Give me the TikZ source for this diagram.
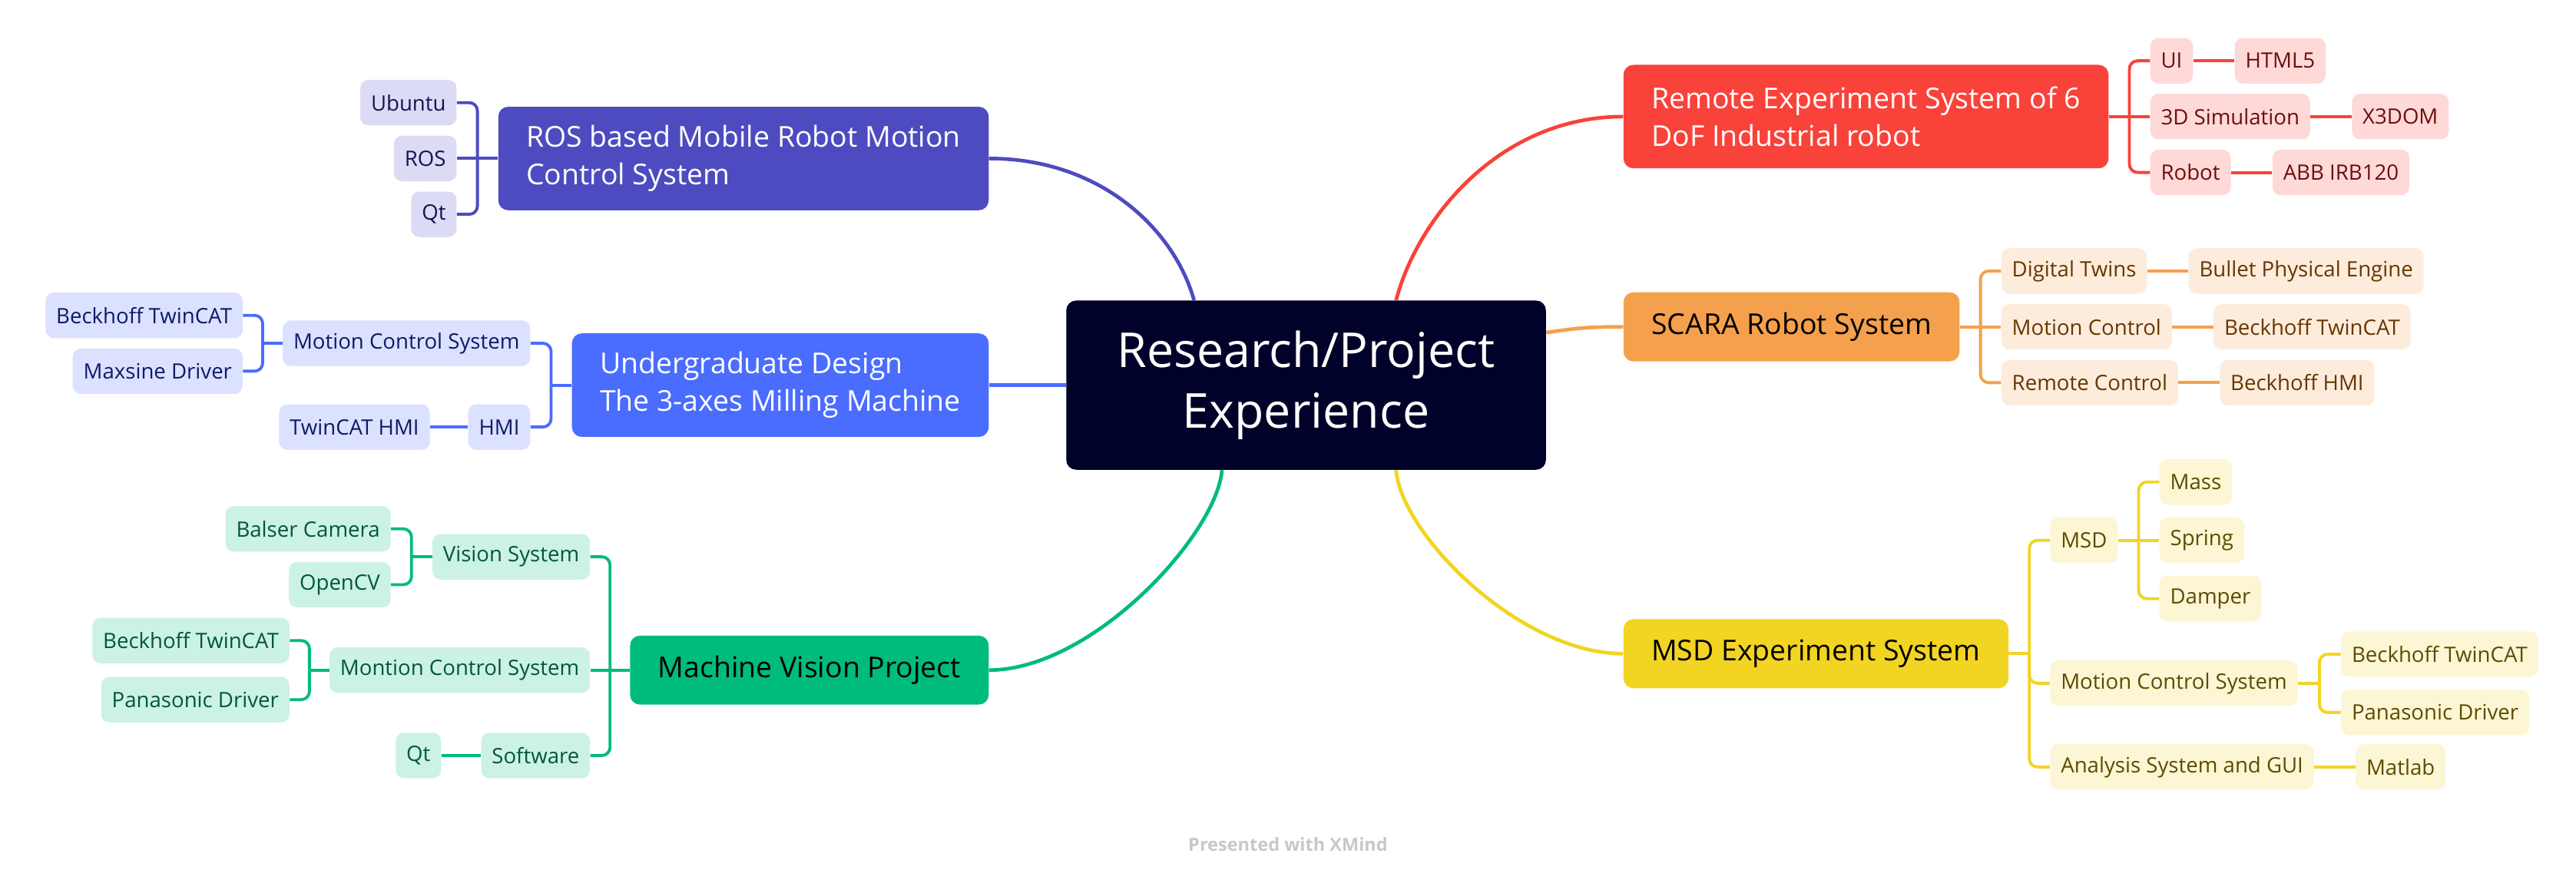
\documentclass[tikz,border=0pt]{standalone}
\usepackage{fontspec}
\setmainfont{Open Sans}
\usetikzlibrary{positioning,calc}

\definecolor{rootcol}{HTML}{000229}
\definecolor{roscol}{HTML}{4E4BC0}
\definecolor{roslight}{HTML}{DCDBF5}
\definecolor{rostext}{HTML}{141450}
\definecolor{ugcol}{HTML}{4A6CFF}
\definecolor{uglight}{HTML}{DBE1FF}
\definecolor{ugtext}{HTML}{0D1B66}
\definecolor{mvcol}{HTML}{00BC7B}
\definecolor{mvlight}{HTML}{CCF2E5}
\definecolor{mvtext}{HTML}{00573A}
\definecolor{remcol}{HTML}{F9423A}
\definecolor{remlight}{HTML}{FED9D8}
\definecolor{remtext}{HTML}{6B0F0C}
\definecolor{scaracol}{HTML}{F5A04D}
\definecolor{scaralight}{HTML}{FDECDC}
\definecolor{scaratext}{HTML}{663700}
\definecolor{msdcol}{HTML}{F2D422}
\definecolor{msdlight}{HTML}{FCF6D4}
\definecolor{msdtext}{HTML}{5C4B00}
\definecolor{footcol}{HTML}{C8C8C8}

\tikzset{
  root/.style={fill=rootcol, text=white, rounded corners=6pt,
    minimum width=292pt, minimum height=103pt, align=center,
    font=\fontsize{29.3}{37}\selectfont},
  topic/.style={fill=#1, rounded corners=6pt, minimum height=42pt,
    inner xsep=17pt, align=left, font=\fontsize{17.5}{23}\selectfont},
  leaf/.style={fill=#1, rounded corners=5pt, minimum height=27.7pt,
    inner xsep=6.5pt, font=\fontsize{12.9}{15}\selectfont},
  rosleaf/.style={leaf=roslight, text=rostext},
  ugleaf/.style={leaf=uglight, text=ugtext},
  mvleaf/.style={leaf=mvlight, text=mvtext},
  remleaf/.style={leaf=remlight, text=remtext},
  scaraleaf/.style={leaf=scaralight, text=scaratext},
  msdleaf/.style={leaf=msdlight, text=msdtext},
  branch/.style={draw=#1, line width=2.2pt},
  twig/.style={draw=#1, line width=1.8pt, rounded corners=5pt}
}

\begin{document}
\begin{tikzpicture}[
    x=1pt, y=-1pt, % picture laid out in pixel units, y downwards
    node distance = 25pt
    ]
    \fill[white] (0,0) rectangle (1568,537.6);
    \useasboundingbox (0,0) rectangle (1568,537.6);

    % centre
    \node[root] (root) at (795,234.5) {Research/Project\\Experience};
    \coordinate (rootTL) at ($(root.north west)+(78,0)$);
    \coordinate (rootTR) at ($(root.north west)+(201,0)$);
    \coordinate (rootBL) at ($(root.south west)+(95,0)$);
    \coordinate (rootBR) at ($(root.south west)+(201,0)$);
    \coordinate (rootR) at ($(root.east)+(0,-32)$);

    % left branches
    \node[topic=roscol, text=white, minimum height=63pt, anchor=east] (ros) at (602,96.5)
        {ROS based Mobile Robot Motion\\Control System};
    \node[topic=ugcol, text=white, minimum height=63pt, anchor=east] (ug) at (602,234.5)
        {Undergraduate Design\\The 3-axes Milling Machine};
    \node[topic=mvcol, text=black, anchor=east] (mv) at (602,408) {Machine Vision Project};

    % right branches
    \node[topic=remcol, text=white, minimum height=63pt, anchor=west] (rem) at (988,71)
        {Remote Experiment System of 6\\DoF Industrial robot};
    \node[topic=scaracol, text=black, anchor=west] (scara) at (988,199) {SCARA Robot System};
    \node[topic=msdcol, text=black, anchor=west] (msd) at (988,398) {MSD Experiment System};

    % ROS
    \node[rosleaf, anchor=east] (ubuntu) at ($(ros.west)+(-25,-34)$) {Ubuntu};
    \node[rosleaf, left=of ros] (rosx) {ROS};
    \node[rosleaf, anchor=east] (qta) at ($(ros.west)+(-25,34)$) {Qt};

    % Undergraduate design
    \node[ugleaf, anchor=east] (mcsa) at ($(ug.west)+(-25,-25.5)$) {Motion Control System};
    \node[ugleaf, anchor=east] (hmi) at ($(ug.west)+(-25,25.5)$) {HMI};
    \node[ugleaf, anchor=east] (bka) at ($(mcsa.west)+(-24,-17)$) {Beckhoff TwinCAT};
    \node[ugleaf, anchor=east] (maxsine) at ($(mcsa.west)+(-24,17)$) {Maxsine Driver};
    \node[ugleaf, left=23pt of hmi] (twinhmi) {TwinCAT HMI};

    % Machine vision
    \node[mvleaf, anchor=east] (vis) at ($(mv.west)+(-24,-69)$) {Vision System};
    \node[mvleaf, left=24pt of mv] (mcsb) {Montion Control System};
    \node[mvleaf, anchor=east] (soft) at ($(mv.west)+(-24,52)$) {Software};
    \node[mvleaf, anchor=east] (balser) at ($(vis.west)+(-25,-17)$) {Balser Camera};
    \node[mvleaf, anchor=east] (opencv) at ($(vis.west)+(-25,17)$) {OpenCV};
    \node[mvleaf, anchor=east] (bkb) at ($(mcsb.west)+(-24,-18)$) {Beckhoff TwinCAT};
    \node[mvleaf, anchor=east] (pana) at ($(mcsb.west)+(-24,18)$) {Panasonic Driver};
    \node[mvleaf, left=24pt of soft] (qtb) {Qt};

    % Remote experiment
    \node[remleaf, anchor=west] (ui) at ($(rem.east)+(25,-34)$) {UI};
    \node[remleaf, right=of rem] (sim) {3D Simulation};
    \node[remleaf, anchor=west] (robot) at ($(rem.east)+(25,34)$) {Robot};
    \node[remleaf, right=of ui] (html) {HTML5};
    \node[remleaf, right=of sim] (xdom) {X3DOM};
    \node[remleaf, right=of robot] (abb) {ABB IRB120};

    % SCARA
    \node[scaraleaf, anchor=west] (twins) at ($(scara.east)+(25,-34)$) {Digital Twins};
    \node[scaraleaf, right=of scara] (mctl) {Motion Control};
    \node[scaraleaf, anchor=west] (rctl) at ($(scara.east)+(25,34)$) {Remote Control};
    \node[scaraleaf, right=of twins] (bullet) {Bullet Physical Engine};
    \node[scaraleaf, right=of mctl] (bkc) {Beckhoff TwinCAT};
    \node[scaraleaf, right=of rctl] (bhmi) {Beckhoff HMI};

    % MSD
    \node[msdleaf, anchor=west] (msdx) at ($(msd.east)+(25,-69)$) {MSD};
    \node[msdleaf, anchor=west] (mcsc) at ($(msd.east)+(25,18)$) {Motion Control System};
    \node[msdleaf, anchor=west] (gui) at ($(msd.east)+(25,69)$) {Analysis System and GUI};
    \node[msdleaf, anchor=west] (mass) at ($(msdx.east)+(25,-35.5)$) {Mass};
    \node[msdleaf, right=of msdx] (spring) {Spring};
    \node[msdleaf, anchor=west] (damper) at ($(msdx.east)+(25,35.5)$) {Damper};
    \node[msdleaf, anchor=west] (bkd) at ($(mcsc.east)+(26,-17.7)$) {Beckhoff TwinCAT};
    \node[msdleaf, anchor=west] (panb) at ($(mcsc.east)+(26,17.8)$) {Panasonic Driver};
    \node[msdleaf, right=of gui] (matlab) {Matlab};

    % main connectors
    \draw[branch=roscol] (ros.east) .. controls +(68,0) and +(-12,-43) .. (rootTL);
    \draw[branch=ugcol] (ug.east) -- (root.west);
    \draw[branch=mvcol] (rootBL) .. controls +(-3,39) and +(63,0) .. (mv.east);
    \draw[branch=remcol] (rem.west) .. controls +(-75,0) and +(13,-50) .. (rootTR);
    \draw[branch=scaracol] (rootR) .. controls +(20,-3) and +(-20,0) .. (scara.west);
    \draw[branch=msdcol] (rootBR) .. controls +(3,39) and +(-63,0) .. (msd.west);

    % ROS brackets
    \coordinate (rosJ) at ($(ros.west)+(-12.5,0)$);
    \draw[twig=roscol] (ros.west) -- (rosx.east);
    \foreach \c in {ubuntu,qta} \draw[twig=roscol] (rosJ) |- (\c.east);

    % Undergraduate brackets
    \coordinate (ugJ) at ($(ug.west)+(-12.5,0)$);
    \draw[twig=ugcol] (ug.west) -- (ugJ);
    \foreach \c in {mcsa,hmi} \draw[twig=ugcol] (ugJ) |- (\c.east);
    \coordinate (mcsaJ) at ($(mcsa.west)+(-12,0)$);
    \draw[twig=ugcol] (mcsa.west) -- (mcsaJ);
    \foreach \c in {bka,maxsine} \draw[twig=ugcol] (mcsaJ) |- (\c.east);
    \draw[twig=ugcol] (hmi.west) -- (twinhmi.east);

    % Machine vision brackets
    \coordinate (mvJ) at ($(mv.west)+(-12,0)$);
    \draw[twig=mvcol] (mv.west) -- (mcsb.east);
    \foreach \c in {vis,soft} \draw[twig=mvcol] (mvJ) |- (\c.east);
    \coordinate (visJ) at ($(vis.west)+(-12.5,0)$);
    \draw[twig=mvcol] (vis.west) -- (visJ);
    \foreach \c in {balser,opencv} \draw[twig=mvcol] (visJ) |- (\c.east);
    \coordinate (mcsbJ) at ($(mcsb.west)+(-12,0)$);
    \draw[twig=mvcol] (mcsb.west) -- (mcsbJ);
    \foreach \c in {bkb,pana} \draw[twig=mvcol] (mcsbJ) |- (\c.east);
    \draw[twig=mvcol] (soft.west) -- (qtb.east);

    % Remote experiment brackets
    \coordinate (remJ) at ($(rem.east)+(12.5,0)$);
    \draw[twig=remcol] (rem.east) -- (sim.west);
    \foreach \c in {ui,robot} \draw[twig=remcol] (remJ) |- (\c.west);
    \draw[twig=remcol] (ui.east) -- (html.west);
    \draw[twig=remcol] (sim.east) -- (xdom.west);
    \draw[twig=remcol] (robot.east) -- (abb.west);

    % SCARA brackets
    \coordinate (scaraJ) at ($(scara.east)+(12.5,0)$);
    \draw[twig=scaracol] (scara.east) -- (mctl.west);
    \foreach \c in {twins,rctl} \draw[twig=scaracol] (scaraJ) |- (\c.west);
    \draw[twig=scaracol] (twins.east) -- (bullet.west);
    \draw[twig=scaracol] (mctl.east) -- (bkc.west);
    \draw[twig=scaracol] (rctl.east) -- (bhmi.west);

    % MSD brackets
    \coordinate (msdJ) at ($(msd.east)+(12.5,0)$);
    \draw[twig=msdcol] (msd.east) -- (msdJ);
    \foreach \c in {msdx,mcsc,gui} \draw[twig=msdcol] (msdJ) |- (\c.west);
    \coordinate (msdxJ) at ($(msdx.east)+(12.5,0)$);
    \draw[twig=msdcol] (msdx.east) -- (spring.west);
    \foreach \c in {mass,damper} \draw[twig=msdcol] (msdxJ) |- (\c.west);
    \coordinate (mcscJ) at ($(mcsc.east)+(13,0)$);
    \draw[twig=msdcol] (mcsc.east) -- (mcscJ);
    \foreach \c in {bkd,panb} \draw[twig=msdcol] (mcscJ) |- (\c.west);
    \draw[twig=msdcol] (gui.east) -- (matlab.west);

    \node[text=footcol, font=\bfseries\fontsize{11}{13}\selectfont] (footer) at (784,514)
        {Presented with XMind};
\end{tikzpicture}
\end{document}
